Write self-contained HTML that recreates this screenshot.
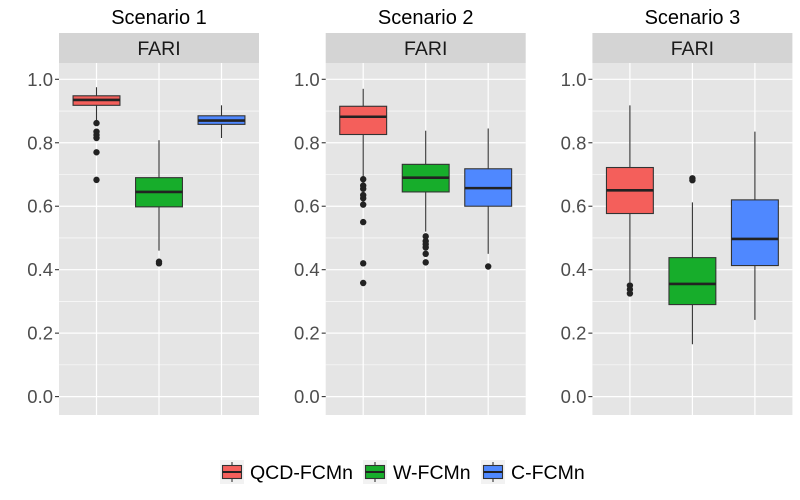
<!DOCTYPE html>
<html><head><meta charset="utf-8"><style>
body{margin:0;background:#fff;}
svg{display:block;font-family:"Liberation Sans",sans-serif;}
</style></head><body>
<svg id="c" width="800" height="500"></svg>
<script>
const scenarios=["Scenario 1","Scenario 2","Scenario 3"];
const methods=["QCD-FCMn","W-FCMn","C-FCMn"];
const fills=["#F45F5B","#17AD2B","#4F88FF"];
const yTicks=[0,0.2,0.4,0.6,0.8,1.0];
const yTickLabels=["0.0","0.2","0.4","0.6","0.8","1.0"];
// each: [lowWhisker, q1, median, q3, highWhisker]
const stats1=[[0.87,0.918,0.935,0.948,0.975],[0.46,0.598,0.645,0.69,0.808],[0.815,0.858,0.87,0.885,0.918]];
const stats2=[[0.69,0.826,0.882,0.915,0.97],[0.52,0.645,0.69,0.732,0.838],[0.45,0.6,0.657,0.718,0.845]];
const stats3=[[0.36,0.577,0.65,0.722,0.918],[0.165,0.29,0.355,0.438,0.612],[0.242,0.413,0.497,0.62,0.835]];
const outliers1=[[0.862,0.835,0.825,0.815,0.77,0.683],[0.425,0.42],[]];
const outliers2=[[0.685,0.665,0.655,0.635,0.625,0.605,0.55,0.42,0.358],[0.505,0.49,0.48,0.47,0.45,0.423],[0.41]];
const outliers3=[[0.35,0.338,0.325],[0.688,0.682],[]];
const allStats=[stats1,stats2,stats3];
const allOut=[outliers1,outliers2,outliers3];

const NS="http://www.w3.org/2000/svg";
const svgEl=document.getElementById('c');
function mk(tag,attrs,parent){const e=document.createElementNS(NS,tag);for(const k in attrs)e.setAttribute(k,attrs[k]);(parent||svgEl).appendChild(e);return e;}
const panelLeft=[59,325.7,592.4], panelW=200, plotTop=63, plotBottom=415;
function yS(v){return 396.6-v*317.3;}
function xc(p,i){const step=panelW/3.2;return panelLeft[p]+step*(0.6+i);}
const bw=panelW/3.2*0.75;

for(let p=0;p<3;p++){
  const L=panelLeft[p];
  const g=mk('g',{});
  
  
  const t=mk('text',{x:L+panelW/2,y:24,'text-anchor':'middle','font-size':20,fill:'#000'},g);
  t.textContent=scenarios[p];
  
  
  const strip=mk('rect',{x:L,y:33,width:panelW,height:30,fill:'#D4D4D4'},g);
  
  
  const st=mk('text',{x:L+panelW/2,y:55,'text-anchor':'middle','font-size':19.5,fill:'#1a1a1a'},g);
  st.textContent='FARI';
  
  
  const bg=mk('rect',{x:L,y:plotTop,width:panelW,height:plotBottom-plotTop,fill:'#E5E5E5'},g);
  
  
  for(let k=0;k<yTicks.length-1;k++){const v=(yTicks[k]+yTicks[k+1])/2;mk('line',{x1:L,x2:L+panelW,y1:yS(v),y2:yS(v),stroke:'#fff','stroke-width':0.6},g);}
  yTicks.forEach((v,k)=>{
    mk('line',{x1:L,x2:L+panelW,y1:yS(v),y2:yS(v),stroke:'#fff','stroke-width':1.2},g);
    mk('line',{x1:L-4,x2:L,y1:yS(v),y2:yS(v),stroke:'#333','stroke-width':1.1},g);
    const tl=mk('text',{x:L-6,y:yS(v)+6.5,'text-anchor':'end','font-size':18.5,fill:'#4D4D4D'},g);
    tl.textContent=yTickLabels[k];
    
    
  });
  for(let i=0;i<3;i++) mk('line',{x1:xc(p,i),x2:xc(p,i),y1:plotTop,y2:plotBottom,stroke:'#fff','stroke-width':1.2},g);
  for(let i=0;i<3;i++){
    const s=allStats[p][i], cx=xc(p,i);
    const bx=mk('g',{},g);
    
    
    mk('line',{x1:cx,x2:cx,y1:yS(s[4]),y2:yS(s[0]),stroke:'#333','stroke-width':1.1},bx);
    mk('rect',{x:cx-bw/2,y:yS(s[3]),width:bw,height:yS(s[1])-yS(s[3]),fill:fills[i],stroke:'#333','stroke-width':1.1},bx);
    mk('line',{x1:cx-bw/2,x2:cx+bw/2,y1:yS(s[2]),y2:yS(s[2]),stroke:'#222','stroke-width':2.6},bx);
    allOut[p][i].forEach(o=>{
      const c=mk('circle',{cx:cx,cy:yS(o),r:3.2,fill:'#222'},bx);
      
      
    });
  }
}
const legX=[220,363,481], legT=[250,393,511];
for(let i=0;i<3;i++){
  const lg=mk('g',{});
  
  
  mk('rect',{x:legX[i],y:460,width:24,height:24,fill:'#F2F2F2'},lg);
  mk('line',{x1:legX[i]+12,x2:legX[i]+12,y1:462,y2:482,stroke:'#333','stroke-width':1.1},lg);
  mk('rect',{x:legX[i]+2.5,y:465.5,width:19,height:13,fill:fills[i],stroke:'#333','stroke-width':1.1},lg);
  mk('line',{x1:legX[i]+2.5,x2:legX[i]+21.5,y1:472,y2:472,stroke:'#222','stroke-width':2},lg);
  const tx=mk('text',{x:legT[i],y:479,'font-size':19.5,fill:'#000'},lg);
  tx.textContent=methods[i];
}
</script>
</body></html>
